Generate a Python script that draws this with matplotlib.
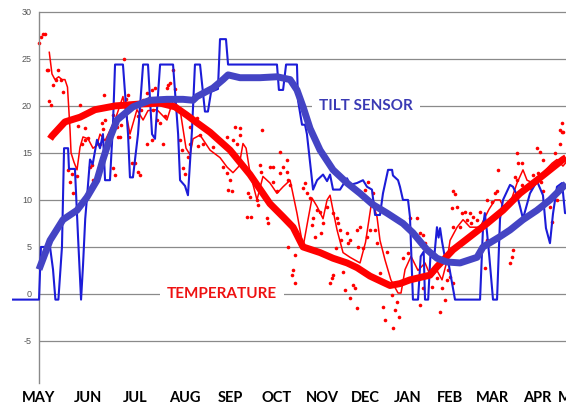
import matplotlib
matplotlib.use('Agg')
import matplotlib.pyplot as plt
from matplotlib.transforms import blended_transform_factory

# x values are days counted from 1 May, y values are degrees

MONTHS = ['MAY', 'JUN', 'JUL', 'AUG', 'SEP', 'OCT', 'NOV', 'DEC',
          'JAN', 'FEB', 'MAR', 'APR', 'MAY']
month_pos = [0, 32.9, 64.4, 97.9, 128.1, 159.6, 189.8, 218.6,
             247.5, 275.7, 303.8, 334.0, 359.5]
yticks = [-5, 0, 5, 10, 15, 20, 25, 30]

# daily temperature readings (dots)
temp_days = [0.2, 1.1, 2.5, 4.0, 5.2, 6.2, 6.9, 7.8, 9.6, 11.4, 12.9, 14.8, 16.3,
             27.5, 26.4, 30.9, 33.1, 43.6, 42.1, 43.0, 44.3, 49.8, 52.1, 53.2, 54.8,
             57.2, 58.4, 59.9, 60.5, 66.2, 68.4, 70.0, 72.2, 73.8, 75.6, 77.8, 76.7,
             78.9, 81.2, 83.4, 84.5, 85.6, 86.7, 87.9, 90.1, 91.2, 89.0, 95.7, 101.3,
             105.8, 19.7, 21.9, 20.8, 23.0, 25.3, 28.6, 30.9, 34.2, 35.3, 36.4, 39.8,
             40.9, 47.6, 49.8, 51.0, 54.3, 62.2, 64.4, 66.6, 67.7, 72.2, 75.6, 83.4,
             94.6, 95.7, 96.8, 97.9, 100.1, 101.3, 106.8, 131.5, 134.8, 149.6,
             108.0, 110.0, 116.7, 123.4, 126.1, 130.1, 132.8, 134.8, 161.6, 166.3,
             130.6, 123.4, 126.1, 128.1, 126.8, 129.4, 140.2, 141.5, 146.2, 146.9,
             139.5, 141.9, 148.2, 148.9, 154.9, 156.9, 163.7, 161.6, 166.3, 156.9,
             159.6, 152.9, 153.6, 166.9, 168.4, 178.4, 177.1, 179.7, 181.8, 186.5,
             183.8, 188.5, 193.2, 190.5, 197.2, 183.4, 185.1, 188.9, 199.9, 200.6,
             201.9, 199.4, 202.4, 206.6, 208.6, 207.2, 213.3, 213.9, 215.3, 217.3,
             220.0, 222.0, 220.7, 218.6, 224.0, 167.0, 171.7,
             170.4, 169.7, 171.7, 197.2, 196.5, 195.2, 203.9, 205.2, 210.6, 211.9,
             208.6, 213.3,
             230.7, 238.8, 232.1, 241.5, 237.4, 236.8, 240.1, 255.5, 268.9, 272.3,
             257.6, 263.6, 270.3, 266.9, 273.6, 275.7, 274.1, 277.7, 299.1, 315.9,
             228.7,
             225.4, 226.7, 233.4, 244.1, 247.5, 253.5, 248.8, 255.5, 257.6, 258.9,
             277.7, 279.0, 277.0, 280.4, 277.4, 283.7, 285.7, 289.1, 291.1, 287.1,
             293.8, 295.8, 289.6, 282.4, 300.5, 307.2, 305.8, 303.8, 307.6, 320.6,
             321.3, 324.0, 334.0, 336.0, 338.0, 346.1, 349.4, 350.8, 320.9, 319.3,
             331.3, 334.4, 336.4, 338.0, 342.7, 347.4, 344.1, 317.9, 317.2, 334.0,
             324.0, 329.3, 300.5, 350.8, 349.4, 351.4]
temp_vals = [26.7, 27.3, 27.7, 27.7, 23.8, 23.8, 20.5, 20.1, 22.2, 22.8, 23.8, 22.8, 21.5,
             20.1, 17.9, 17.7, 16.6, 21.2, 18.2, 17.5, 18.5, 19.0, 17.8, 16.7, 18.0,
             25.0, 20.7, 21.2, 16.7, 18.9, 19.6, 20.6, 21.4, 20.8, 21.7, 21.9, 19.6,
             18.5, 18.2, 20.8, 18.9, 21.9, 22.2, 22.4, 23.8, 21.8, 20.6, 19.4, 17.8,
             18.7, 13.2, 12.8, 11.9, 10.7, 12.5, 15.9, 16.4, 13.5, 13.7, 12.1, 12.7,
             16.0, 15.9, 13.4, 12.7, 16.7, 13.9, 13.9, 13.0, 12.7, 16.0, 16.4, 16.0,
             16.4, 15.3, 13.4, 12.8, 14.6, 16.0, 15.7, 17.8, 17.6, 17.4,
             16.9, 16.0, 15.6, 16.0, 16.7, 16.4, 15.9, 16.9, 15.1, 14.3,
             14.8, 13.5, 12.9, 12.1, 11.1, 10.9, 10.7, 10.3, 10.0, 9.5,
             8.2, 8.2, 13.7, 13.0, 13.5, 13.5, 13.5, 12.9, 13.0, 11.9,
             10.9, 8.1, 7.6, 12.1, 11.6, 11.8, 11.3, 10.7, 10.2, 8.9,
             8.1, 8.7, 9.3, 7.6, 8.6, 7.3, 6.1, 6.5, 8.1, 7.6,
             6.8, 4.9, 5.7, 6.5, 5.7, 5.4, 6.8, 5.0, 7.1, 4.9,
             6.1, 6.8, 11.9, 11.1, 10.7, 5.0, 4.1,
             2.6, 2.0, 1.2, 2.0, 1.7, 1.2, 2.3, 0.4, 1.0, 0.6,
             -0.4, -1.5,
             -1.4, -1.7, -2.8, -2.4, -3.6, -0.1, -0.9, -1.2, -1.9, -0.6,
             0.6, 0.7, 0.6, 1.7, 1.5, 1.8, 2.6, 1.2, 2.8, 3.3,
             2.2,
             6.8, 5.4, 4.5, 3.8, 4.4, 8.1, 8.1, 6.5, 6.3, 5.4,
             10.9, 10.6, 9.1, 9.2, 7.1, 8.6, 8.7, 8.6, 8.2, 7.9,
             7.9, 8.7, 7.5, 7.1, 10.0, 10.9, 10.7, 9.8, 13.2, 15.0,
             13.9, 13.9, 15.5, 15.1, 14.3, 15.0, 15.9, 17.2, 12.1, 12.4,
             12.7, 12.9, 11.9, 10.9, 9.3, 10.0, 7.7, 4.7, 3.9, 9.1,
             11.6, 11.3, 5.7, 18.2, 17.4, 17.2]

# short running mean of temperature (thin red)
temp_line_days = [6.9, 8.7, 10.7, 13.2, 15.4, 17.4, 19.1, 20.8, 21.5, 23.5, 25.5,
                  27.5, 29.5, 32.9, 36.2, 38.9, 40.9, 44.3, 47.6, 51.0, 56.3, 61.0,
                  65.7, 69.8, 73.1, 79.1, 85.8, 89.9, 94.6, 98.6, 101.3, 103.3, 108.0,
                  114.7, 121.4, 126.1, 130.1, 134.2, 136.8, 138.9, 141.5, 146.2,
                  150.2, 154.9, 159.6, 163.7, 168.4, 173.0, 177.1, 180.4, 183.1,
                  186.5, 190.5, 193.2, 195.2, 197.2, 199.9, 203.9, 208.6, 215.3,
                  219.0, 223.3, 226.7, 228.7, 232.1, 236.0, 240.8, 242.8, 245.5,
                  249.5, 254.2, 258.9, 262.9, 266.9, 270.3, 273.6, 275.7, 280.4,
                  284.4, 289.1, 295.8, 301.8, 305.8, 309.2, 311.2, 315.9, 320.6,
                  324.6, 327.3, 331.3, 338.0, 344.1, 347.4, 351.4, 353.5]
temp_line_vals = [25.7, 23.4, 22.8, 23.1, 22.8, 22.8, 22.0, 17.5, 15.0, 14.0, 13.2,
                  15.6, 16.7, 16.5, 15.5, 15.8, 17.0, 16.3, 17.4, 18.5, 21.0, 17.0,
                  19.6, 18.5, 19.5, 19.6, 18.5, 20.6, 19.6, 15.5, 14.8, 16.5, 16.9,
                  15.3, 14.5, 13.5, 12.9, 13.6, 16.0, 15.5, 12.9, 10.0,
                  12.5, 11.8, 10.7, 11.4, 12.1, 8.6, 5.0, 7.9, 10.2,
                  9.3, 8.0, 10.0, 10.5, 8.9, 6.8, 4.4, 3.9, 3.3,
                  5.5, 10.0, 8.2, 5.7, 3.6, 1.5, 0.1, 0.1, 2.6,
                  4.0, 2.5, 3.3, 1.8, 2.5, 1.5, 3.5, 5.7, 7.1,
                  7.9, 7.1, 7.1, 9.0, 10.0, 10.0, 9.3, 9.6, 11.8,
                  13.2, 12.1, 11.8, 12.9, 13.9, 14.3, 13.6, 14.0]

# long running mean of temperature (thick red)
temp_avg_days = [7.4, 8.7, 17.4, 27.5, 37.6, 51.0, 67.7, 81.2, 91.2, 99.3, 106.0,
                 114.7, 128.1, 141.5, 154.9, 163.7, 170.4, 177.1, 188.5, 197.2,
                 206.6, 213.3, 222.0, 230.0, 235.4, 242.1, 248.8, 262.2, 267.0,
                 277.7, 289.1, 300.5, 311.2, 322.6, 334.0, 342.7, 351.4, 353.5]
temp_avg_vals = [16.5, 16.8, 18.3, 18.8, 19.6, 20.0, 20.2, 20.3, 19.9, 19.0, 18.2,
                 17.2, 15.3, 12.7, 9.6, 8.2, 7.1, 5.0, 4.4, 3.8,
                 3.3, 2.8, 1.9, 1.3, 0.9, 1.1, 1.5, 2.0, 2.9,
                 4.7, 6.1, 7.5, 8.9, 10.7, 12.1, 13.2, 14.3, 14.5]

# raw tilt sensor trace (thin blue)
tilt_days = [-17.4, 0.0, 1.3, 7.4, 9.4, 11.0, 13.0, 15.4, 16.8, 19.5, 20.1, 24.1,
             26.2, 28.2, 29.5, 31.0, 32.2, 34.2, 36.0, 38.9, 40.9, 42.9, 44.3,
             47.6, 49.6, 51.0, 56.3, 59.7, 61.0, 63.0, 66.4, 69.8, 73.1, 75.8,
             77.8, 81.2, 89.9, 93.3, 94.6, 97.9, 99.9, 102.6, 104.6, 108.0, 111.3,
             113.3, 115.4, 120.0, 121.4, 125.4, 126.8, 159.6, 160.9, 163.7, 165.7,
             173.0, 173.7, 176.4, 178.4, 179.7, 183.8, 186.5, 190.5, 193.2, 195.2,
             197.2, 201.9, 206.6, 208.6, 213.3, 217.3, 220.0, 223.3, 225.4, 228.7,
             230.7, 234.1, 236.8, 237.4, 240.8, 242.1, 244.1, 247.5, 248.8, 250.8,
             254.2, 256.0, 258.0, 258.9, 261.0, 262.5, 265.0, 266.9, 268.0, 269.0,
             270.3, 272.3, 274.3, 279.0, 295.8, 297.8, 299.0, 300.5, 302.0, 304.5,
             307.2, 309.2, 311.2, 315.9, 317.9, 320.6, 322.6, 324.6, 329.3, 334.0,
             338.0, 340.0, 342.7, 344.7, 347.4, 350.8, 352.8, 353.5]
tilt_vals = [-0.6, -0.6, 5.0, 5.0, 2.6, -0.6, -0.6, 5.0, 15.5, 15.5, 13.3, 13.3,
             6.0, -0.6, 3.0, 8.0, 10.3, 14.3, 13.8, 16.4, 15.5, 17.0, 12.1,
             12.1, 18.0, 24.4, 24.4, 17.0, 12.4, 12.4, 17.0, 24.4, 24.4, 17.0,
             16.5, 24.4, 24.4, 17.0, 12.1, 11.5, 10.5, 17.4, 24.4, 24.4, 19.4,
             19.4, 21.5, 21.8, 27.1, 27.1, 24.4, 24.4, 21.7, 21.7, 24.4,
             24.4, 20.6, 18.0, 18.0, 17.0, 11.1, 12.1, 12.7, 12.0, 12.7,
             11.1, 11.1, 12.3, 11.6, 11.8, 12.1, 11.4, 11.1, 8.4, 8.4,
             10.7, 13.2, 13.2, 12.6, 12.1, 11.4, 10.0, 10.0, 8.2, -0.6,
             -0.6, 4.0, 4.5, -0.6, -0.6, 4.0, 3.8, 7.1, 6.0, 7.0,
             5.6, 3.8, 3.6, -0.6, -0.6, 7.1, 8.6, 6.5, 4.0, -0.6,
             -0.6, 8.0, 10.0, 11.6, 11.4, 10.5, 9.3, 8.0, 10.7, 12.0,
             10.5, 7.0, 5.4, 8.5, 11.4, 11.8, 8.6, 8.6]

# long running mean of tilt sensor (thick blue)
tilt_avg_days = [0.0, 7.4, 16.1, 25.5, 32.2, 38.9, 42.9, 47.6, 52.3, 63.0, 74.4,
                 85.8, 96.6, 103.3, 106.0, 116.7, 123.4, 126.8, 134.8, 148.2, 159.6,
                 168.4, 173.0, 177.1, 181.8, 188.5, 197.2, 206.6, 215.3, 224.0,
                 233.4, 244.1, 250.8, 260.2, 266.9, 273.6, 282.4, 293.8, 297.8,
                 309.2, 315.9, 324.6, 334.0, 342.7, 352.8, 353.5]
tilt_avg_vals = [2.6, 5.7, 7.9, 8.9, 10.3, 12.1, 14.3, 16.6, 18.5, 19.9, 20.6,
                 20.7, 20.7, 20.6, 21.0, 21.9, 22.8, 23.3, 23.0, 23.0, 23.1,
                 22.8, 21.7, 19.9, 17.6, 15.3, 13.2, 11.8, 10.7, 9.5,
                 8.6, 7.5, 6.5, 4.7, 3.8, 3.4, 3.3, 3.9, 5.0,
                 6.1, 6.8, 7.9, 8.9, 10.0, 11.6, 11.7]

RED = '#ff0000'
BLUE_THIN = '#1c1cd8'
BLUE_THICK = '#4444c4'
LABEL_FONT = ['Lato', 'DejaVu Sans']


def tilt_temp_chart():
    """ temperature and tilt sensor over one year """
    fig = plt.figure(figsize=(5.66, 4.05), dpi=100)
    ax = fig.add_axes([0, 0.0543, 1, 0.921])
    ax.set_xlim(-26.16, 353.45)
    ax.set_ylim(-9.47, 30.2)

    # axis: only a grey vertical line at 1 May
    for side in ['top', 'right', 'bottom']:
        ax.spines[side].set_visible(False)
    ax.spines['left'].set_position(('data', 0))
    ax.spines['left'].set_bounds(-9.47, 30)
    ax.spines['left'].set_color('#8a8a8a')
    ax.spines['left'].set_linewidth(1.0)
    ax.set_xticks([])
    ax.set_yticks(yticks)
    ax.set_yticklabels([str(v) for v in yticks], fontsize=6.5,
                       color='#555555', family='Liberation Sans')
    ax.tick_params(axis='y', length=0, pad=5)
    ax.hlines(yticks, 0, 353.45, colors='#8a8a8a', linewidth=0.9, zorder=0.5)

    ax.plot(temp_days, temp_vals, 'o', color=RED, markersize=2.6,
            markeredgewidth=0, zorder=2)
    ax.plot(temp_line_days, temp_line_vals, color=RED, linewidth=1.1, zorder=3)
    ax.plot(tilt_days, tilt_vals, color=BLUE_THIN, linewidth=1.5, zorder=4)
    ax.plot(temp_avg_days, temp_avg_vals, color=RED, linewidth=5.0,
            solid_capstyle='butt', zorder=5)
    ax.plot(tilt_avg_days, tilt_avg_vals, color=BLUE_THICK, linewidth=5.0,
            solid_capstyle='butt', zorder=6)

    # series names sit on the grid lines, in white boxes
    box = dict(facecolor='white', edgecolor='none', pad=5)
    ax.text(219.3, 20, 'TILT SENSOR', color='#3a3ab4', fontsize=11,
            fontweight='bold', family=LABEL_FONT, ha='center',
            va='center', bbox=box, zorder=1)
    ax.text(122.7, 0, 'TEMPERATURE', color='#ee1111', fontsize=11,
            fontweight='bold', family=LABEL_FONT, ha='center',
            va='center', bbox=box, zorder=1)

    # month names under the plot
    trans = blended_transform_factory(ax.transData, fig.transFigure)
    for name, pos in zip(MONTHS, month_pos):
        ax.text(pos, 0.008, name, transform=trans, ha='center', va='baseline',
                fontsize=10.5, fontweight='bold', family=LABEL_FONT,
                color='black', clip_on=False)

    fig.savefig('out.png', dpi=100)


if __name__ == '__main__':
    tilt_temp_chart()
